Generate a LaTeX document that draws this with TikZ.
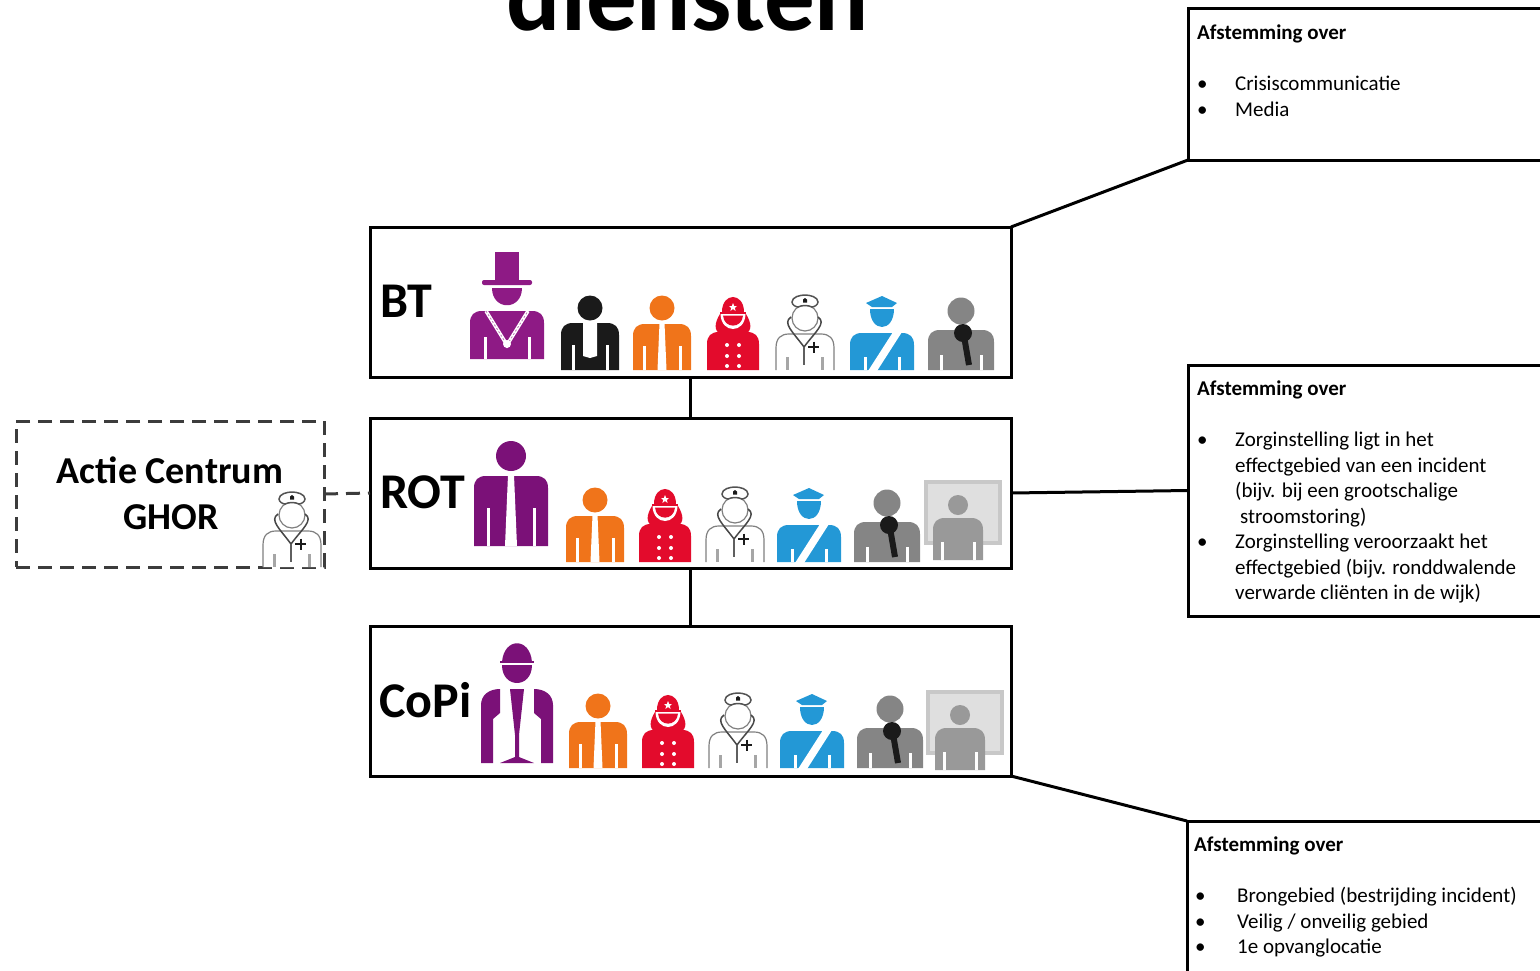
\documentclass[tikz,border=0pt]{standalone}
\usepackage{fontspec}
\setmainfont{Carlito}
\usetikzlibrary{positioning}
\definecolor{mayorpurple}{HTML}{8E1A85}
\definecolor{staffpurple}{HTML}{7B1178}
\definecolor{staffblack}{HTML}{1A1A1A}
\definecolor{stafforange}{HTML}{F0741A}
\definecolor{firered}{HTML}{E30B2C}
\definecolor{policeblue}{HTML}{2398D6}
\definecolor{pressgrey}{HTML}{858585}
\definecolor{screengrey}{HTML}{C8C8C8}
\definecolor{screenfill}{HTML}{DFDFDF}
\definecolor{screenman}{HTML}{999999}
\newcommand{\torso}[3]{%
\fill[#3] (-#1,0) -- (-#1,-#2+12) .. controls (-#1,-#2+4) and (-#1+4,-#2) .. (-#1+12,-#2)
-- (#1-12,-#2) .. controls (#1-4,-#2) and (#1,-#2+4) .. (#1,-#2+12) -- (#1,0) -- cycle;}
\newcommand{\armslits}[3]{%
\fill[#3] (-#1-1.5,0) rectangle (-#1+1.5,-#2);
\fill[#3] (#1-1.5,0) rectangle (#1+1.5,-#2);}
\newcommand{\bul}{\makebox[38pt][l]{\textbullet}}
\newcommand{\ind}{\hspace*{38pt}}
\tikzset{
rolebox/.style={draw,line width=3pt,outer sep=0pt,minimum width=641pt,minimum height=150pt,anchor=north west,inner sep=0pt},
infobox/.style={draw,line width=3pt,outer sep=0pt,minimum width=500pt,anchor=north west,inner sep=0pt},
boxtext/.style={anchor=north west,inner sep=0pt,align=left,font=\fontsize{21}{25.5}\selectfont},
rolelabel/.style={anchor=base west,inner sep=0pt,font=\fontsize{50}{50}\selectfont\bfseries},
link/.style={line width=3pt},
ghorline/.style={dash pattern=on 14pt off 8pt,line width=3pt,draw=staffblack!85},
mayor/.pic={
\torso{37}{48}{mayorpurple}
\armslits{22}{22}{white}
\draw[white,line width=3.5pt] (-21,-48) -- (0,-14) -- (21,-48);
\draw[mayorpurple!60,line width=0.8pt,dash pattern=on 2pt off 2pt] (-21,-48) -- (0,-14) -- (21,-48);
\fill[white] (0,-15) circle (4);
\fill[mayorpurple] (-15,-71) .. controls (-15,-48) and (15,-48) .. (15,-71) -- cycle;
\fill[mayorpurple,rounded corners=2pt] (-25,-79) rectangle (25,-74);
\fill[mayorpurple] (-12,-79) rectangle (12,-107);
},
suitman/.pic={
\torso{29}{47}{staffblack}
\armslits{17}{25}{white}
\fill[white] (-7,-48) -- (7,-48) -- (7,-14) -- (0,-12) -- (-7,-14) -- cycle;
\fill[staffblack] (0,-62) circle (12.5);
},
staffman/.pic={
\torso{29}{46}{stafforange}
\armslits{18}{24}{white}
\fill[white] (-2.5,-47) -- (2.5,-47) -- (4.5,0) -- (-4.5,0) -- cycle;
\fill[stafforange] (0,-62) circle (12.5);
},
leadman/.pic={
\torso{37}{70}{staffpurple}
\armslits{23}{38}{white}
\fill[white] (-3,-71) -- (3,-71) -- (6,0) -- (-6,0) -- cycle;
\fill[staffpurple] (0,-90) circle (15);
},
fireman/.pic={
\torso{26}{38}{firered}
\fill[firered] (-12,-36) .. controls (-20,-39) and (-18,-48) .. (-13,-56) -- (13,-56) .. controls (18,-48) and (20,-39) .. (12,-36) -- cycle;
\fill[firered] (-11,-58) .. controls (-11,-78) and (11,-78) .. (11,-58) -- cycle;
\fill[firered] (-13,-58) rectangle (13,-56.5);
\fill[white] (-12.5,-56) .. controls (-12,-36) and (12,-36) .. (12.5,-56) -- cycle;
\fill[firered] (-10,-54.5) .. controls (-9,-41) and (9,-41) .. (10,-54.5) -- cycle;
\fill[white] (0,-67) -- (1.2,-64) -- (4,-64) -- (1.8,-62) -- (2.6,-59) -- (0,-61) -- (-2.6,-59) -- (-1.8,-62) -- (-4,-64) -- (-1.2,-64) -- cycle;
\foreach \ypos in {4,14,25} {
\fill[white] (-6,-\ypos) circle (2);
\fill[white] (6,-\ypos) circle (2);
}
},
nurse/.pic={
\draw[gray,line width=1.2pt,fill=white] (-29,0) -- (-29,-22) .. controls (-29,-32) and (-24,-36) .. (-16,-36) -- (16,-36) .. controls (24,-36) and (29,-32) .. (29,-22) -- (29,0);
\fill[gray!70] (-19,0) rectangle (-16,-13);
\fill[gray!70] (16,0) rectangle (19,-13);
\draw[gray,line width=1.2pt,fill=white] (0,-52) circle (13);
\draw[staffblack!75,line width=1.5pt,fill=white] (-13,-68) .. controls (-13,-73) and (-5,-75) .. (0,-75) .. controls (5,-75) and (13,-73) .. (13,-68) .. controls (13,-65) and (9,-63) .. (7,-63) .. controls (3,-65) and (-3,-65) .. (-7,-63) .. controls (-9,-63) and (-13,-65) .. (-13,-68) -- cycle;
\draw[staffblack!80,line width=1.5pt] (-14,-53) .. controls (-23,-47) and (-12,-38) .. (-1,-23);
\draw[staffblack!80,line width=1.5pt] (13,-53) .. controls (22,-47) and (10,-38) .. (-1,-23);
\draw[staffblack!70,line width=2.6pt] (-1,-23) -- (-1,-5);
\fill[staffblack] (-2,-70.5) -- (0,-72) -- (2,-70.5) -- (2,-67.5) -- (-2,-67.5) -- cycle;
\draw[staffblack,line width=2pt] (3,-23) -- (14,-23) (8.5,-28.5) -- (8.5,-17.5);
},
policeman/.pic={
\torso{32}{37}{policeblue}
\armslits{17}{13}{white}
\fill[white] (11,-38) -- (20,-38) -- (-5,1) -- (-14,1) -- cycle;
\fill[policeblue] (-12,-61) .. controls (-12,-37) and (12,-37) .. (12,-61) -- cycle;
\fill[policeblue] (-16,-67) -- (0,-74) -- (15,-67) -- (10,-63) -- (-10,-63) -- cycle;
},
pressman/.pic={
\torso{33}{40}{pressgrey}
\armslits{20}{15}{white}
\fill[pressgrey] (0,-59) circle (13.5);
\draw[staffblack,line width=6pt] (3,-34) -- (8,-5);
\fill[staffblack] (2,-37) circle (9);
},
screenman/.pic={
\fill[screenfill,draw=screengrey,line width=4pt] (-32,-17) rectangle (42,-78);
\torso{25}{42}{screenman}
\armslits{16}{18}{white}
\fill[screenman] (0,-55) circle (10);
},
helmetman/.pic={
\fill[staffpurple] (-36,0) -- (-36,-58) .. controls (-36,-68) and (-28,-74) .. (-17,-74) -- (-17,-50) -- (-24,-44) -- (-24,0) -- cycle;
\fill[staffpurple] (36,0) -- (36,-58) .. controls (36,-68) and (28,-74) .. (17,-74) -- (17,-50) -- (24,-44) -- (24,0) -- cycle;
\fill[staffpurple] (-7,-74) -- (7,-74) -- (2,-28) -- (2,-6) -- (17,0) -- (-17,0) -- (-2,-6) -- (-2,-28) -- cycle;
\fill[staffpurple] (-15,-98) .. controls (-15,-74) and (15,-74) .. (15,-98) -- cycle;
\fill[staffpurple] (-15,-101) .. controls (-13,-126) and (13,-126) .. (15,-101) -- cycle;
\fill[staffpurple] (-17,-102) rectangle (17,-100);
}
}
\begin{document}
\begin{tikzpicture}[x=1pt,y=-1pt]
\useasboundingbox (0,0) rectangle (1540,970);
\clip (0,0) rectangle (1540,970);
% title
\node[anchor=base,inner sep=0pt,font=\fontsize{101}{101}\selectfont\bfseries] (title) at (688,30) {diensten};
% teams
\node[rolebox] (bt) at (370,227) {};
\node[rolebox] (rot) at (370,418) {};
\node[rolebox] (copi) at (370,626) {};
\node[rolelabel] (btlabel) at (380,317) {BT};
\node[rolelabel] (rotlabel) at (380,508.5) {ROT};
\node[rolelabel] (copilabel) at (379,717.5) {CoPi};
% GHOR
\node[draw,ghorline,outer sep=0pt,minimum width=308pt,minimum height=146pt,anchor=north west,inner sep=0pt] (ghor) at (16,421) {};
\node[anchor=base,inner sep=0pt,font=\fontsize{38}{38}\selectfont\bfseries] (ghorname) at (170,483) {Actie Centrum};
\node[anchor=base,inner sep=0pt,font=\fontsize{38}{38}\selectfont\bfseries] (ghorsub) at (171,529) {GHOR};
\pic (ghornurse) at (292,567) {nurse};
% BT icons
\pic (btmayor) at (507,359) {mayor};
\pic (btsuit) at (590,370) {suitman};
\pic (btstaff) at (662,370) {staffman};
\pic (btfire) at (733,370) {fireman};
\pic (btnurse) at (805,370) {nurse};
\pic (btpolice) at (882,370) {policeman};
\pic (btpress) at (961,370) {pressman};
% ROT icons
\pic (rotlead) at (511,546) {leadman};
\pic (rotstaff) at (595,562) {staffman};
\pic (rotfire) at (665,562) {fireman};
\pic (rotnurse) at (735,562) {nurse};
\pic (rotpolice) at (809,562) {policeman};
\pic (rotpress) at (887,562) {pressman};
\pic (rotscreen) at (958,560) {screenman};
% CoPi icons
\pic (copilead) at (517,763) {helmetman};
\pic (copistaff) at (598,768) {staffman};
\pic (copifire) at (668,768) {fireman};
\pic (copinurse) at (738,768) {nurse};
\pic (copipolice) at (812,768) {policeman};
\pic (copipress) at (890,768) {pressman};
\pic (copiscreen) at (960,770) {screenman};
% info boxes
\node[infobox,minimum height=152pt] (mediabox) at (1188,8) {};
\node[infobox,minimum height=251pt] (carebox) at (1188,365) {};
\node[infobox,minimum height=300pt] (sitebox) at (1187,821) {};
\node[boxtext] (mediatext) at (1197,25) {\textbf{Afstemming over}\\[25.5pt]\bul Crisiscommunicatie\\\bul Media};
\node[boxtext] (caretext) at (1197,381) {\textbf{Afstemming over}\\[25.5pt]\bul Zorginstelling ligt in het\\\ind effectgebied van een incident\\\ind (bijv. bij een grootschalige\\\ind\hspace*{5pt}stroomstoring)\\\bul Zorginstelling veroorzaakt het\\\ind effectgebied (bijv. ronddwalende\\\ind verwarde cliënten in de wijk)};
\node[boxtext] (sitetext) at (1194,837) {\textbf{Afstemming over}\\[25.5pt]\hspace*{1pt}\makebox[42pt][l]{\textbullet}Brongebied (bestrijding incident)\\\hspace*{1pt}\makebox[42pt][l]{\textbullet}Veilig / onveilig gebied\\\hspace*{1pt}\makebox[42pt][l]{\textbullet}1e opvanglocatie};
% connectors
\draw[link] (bt.south) -- (rot.north);
\draw[link] (rot.south) -- (copi.north);
\draw[link] (bt.north east) -- (mediabox.south west);
\draw[link] (rot.east) -- (carebox.west);
\draw[link] (copi.south east) -- (sitebox.north west);
\draw[ghorline] (ghor.east) -- (rot.west);
\end{tikzpicture}
\end{document}
